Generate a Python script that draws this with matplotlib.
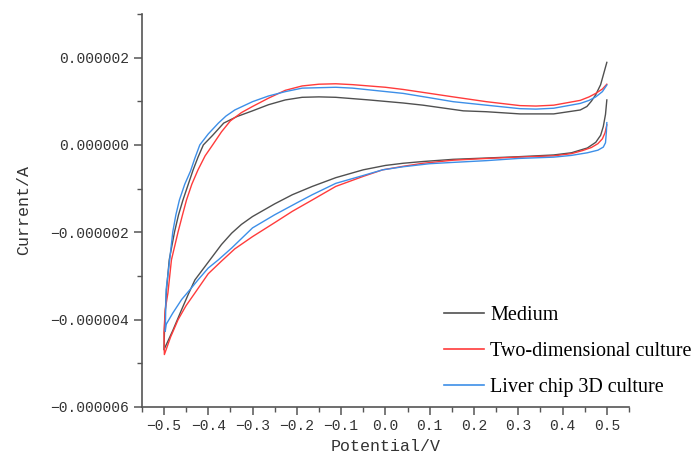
import matplotlib
matplotlib.use("Agg")
import matplotlib.pyplot as plt
from matplotlib.ticker import MultipleLocator, FuncFormatter
import numpy as np

# cyclic voltammetry, one cycle each: cathodic sweep 0.5 -> -0.5 then anodic back to 0.5
# potential in V, current in uA (scaled to A when plotting)
medium_E = [0.500, 0.497, 0.492, 0.486, 0.475, 0.456, 0.420, 0.380, 0.300, 0.228, 0.153, 0.085,
            0.040, 0.000, -0.050, -0.112, -0.165, -0.210, -0.250, -0.300, -0.325, -0.347, -0.370,
            -0.390, -0.410, -0.430, -0.445, -0.460, -0.480, -0.500,
            -0.498, -0.494, -0.488, -0.476, -0.467, -0.457, -0.445, -0.434, -0.423, -0.411, -0.390,
            -0.365, -0.335, -0.300, -0.264, -0.226, -0.188, -0.150, -0.112, -0.037, 0.040, 0.085,
            0.176, 0.228, 0.304, 0.380, 0.440, 0.455, 0.465, 0.475, 0.486, 0.500]
medium_I = [1.03, 0.70, 0.42, 0.22, 0.06, -0.07, -0.18, -0.23, -0.27, -0.30, -0.33, -0.38,
            -0.42, -0.47, -0.57, -0.75, -0.95, -1.14, -1.35, -1.64, -1.82, -2.02, -2.28,
            -2.55, -2.82, -3.09, -3.42, -3.77, -4.25, -4.69,
            -4.00, -3.30, -2.63, -1.99, -1.60, -1.26, -0.90, -0.57, -0.28, 0.00, 0.22,
            0.50, 0.65, 0.78, 0.92, 1.03, 1.09, 1.10, 1.09, 1.03, 0.96, 0.91,
            0.78, 0.76, 0.71, 0.71, 0.80, 0.88, 1.00, 1.15, 1.38, 1.89]

twod_E = [0.500, 0.496, 0.490, 0.480, 0.465, 0.445, 0.420, 0.380, 0.300, 0.228, 0.153, 0.085,
          0.040, -0.006, -0.050, -0.112, -0.165, -0.210, -0.250, -0.300, -0.340, -0.370, -0.400,
          -0.430, -0.450, -0.468, -0.485, -0.499,
          -0.500, -0.497, -0.491, -0.483, -0.468, -0.458, -0.449, -0.437, -0.423, -0.407, -0.390,
          -0.370, -0.350, -0.325, -0.300, -0.264, -0.226, -0.188, -0.150, -0.112, -0.074, 0.000,
          0.040, 0.100, 0.153, 0.228, 0.304, 0.340, 0.380, 0.440, 0.460, 0.475, 0.490, 0.500]
twod_I = [0.46, 0.28, 0.14, 0.03, -0.06, -0.13, -0.20, -0.25, -0.28, -0.31, -0.35, -0.42,
          -0.49, -0.57, -0.72, -0.95, -1.26, -1.52, -1.78, -2.10, -2.38, -2.66, -2.95,
          -3.39, -3.68, -4.00, -4.40, -4.80,
          -4.30, -3.77, -3.39, -2.63, -1.99, -1.60, -1.26, -0.90, -0.57, -0.25, 0.00,
          0.30, 0.55, 0.74, 0.88, 1.07, 1.25, 1.35, 1.39, 1.40, 1.38, 1.32,
          1.27, 1.18, 1.10, 0.99, 0.90, 0.89, 0.91, 1.02, 1.10, 1.18, 1.28, 1.39]

chip_E = [0.500, 0.499, 0.497, 0.492, 0.480, 0.456, 0.420, 0.380, 0.300, 0.228, 0.153, 0.100,
          0.040, -0.006, -0.050, -0.112, -0.165, -0.195, -0.250, -0.300, -0.347, -0.377, -0.400,
          -0.423, -0.440, -0.460, -0.480, -0.495, -0.497,
          -0.495, -0.487, -0.480, -0.473, -0.465, -0.453, -0.440, -0.430, -0.419, -0.400, -0.377,
          -0.360, -0.340, -0.300, -0.264, -0.226, -0.188, -0.112, -0.074, 0.040, 0.100, 0.153,
          0.228, 0.304, 0.340, 0.380, 0.440, 0.460, 0.475, 0.490, 0.500]
chip_I = [0.51, 0.30, 0.05, -0.05, -0.12, -0.18, -0.24, -0.28, -0.31, -0.36, -0.40, -0.43,
          -0.50, -0.57, -0.70, -0.88, -1.14, -1.30, -1.60, -1.90, -2.36, -2.63, -2.82,
          -3.09, -3.30, -3.54, -3.85, -4.11, -4.27,
          -3.31, -2.63, -1.99, -1.60, -1.26, -0.90, -0.60, -0.30, 0.00, 0.25, 0.50,
          0.66, 0.80, 0.99, 1.12, 1.22, 1.30, 1.32, 1.30, 1.18, 1.08, 0.99,
          0.91, 0.83, 0.82, 0.84, 0.95, 1.02, 1.10, 1.22, 1.37]

labels = ["Medium", "Two-dimensional culture", "Liver chip 3D culture"]
colors = ["#505050", "#ff3b3b", "#3d8fe8"]

mono = "Liberation Mono"
axcol = "#555555"

fig = plt.figure(figsize=(6.95, 4.63), dpi=100)
ax = fig.add_axes([0.204, 0.121, 0.701, 0.849])

series = [(medium_E, medium_I), (twod_E, twod_I), (chip_E, chip_I)]
for (E, I), lab, c in zip(series, labels, colors):
    ax.plot(E, np.array(I) * 1e-6, color=c, lw=1.0, label=lab)

ax.set_xlim(-0.55, 0.55)
ax.set_ylim(-6e-6, 3e-6)
ax.xaxis.set_major_locator(MultipleLocator(0.1))
ax.xaxis.set_minor_locator(MultipleLocator(0.05))
ax.yaxis.set_major_locator(MultipleLocator(2e-6))
ax.yaxis.set_minor_locator(MultipleLocator(1e-6))
ax.yaxis.set_major_formatter(FuncFormatter(lambda v, p: f"{v:.6f}".replace("-", "\u2212")))
ax.xaxis.set_major_formatter(FuncFormatter(lambda v, p: f"{v:.1f}".replace("-", "\u2212")))

for s in ["top", "right"]:
    ax.spines[s].set_visible(False)
for s in ["left", "bottom"]:
    ax.spines[s].set_color(axcol)
    ax.spines[s].set_linewidth(1.2)

ax.tick_params(which="major", direction="out", length=6, width=1.1, color=axcol,
               labelsize=10.5, labelcolor="#333333", pad=3)
ax.tick_params(which="minor", direction="out", length=3.5, width=1.0, color=axcol)
for t in ax.get_xticklabels() + ax.get_yticklabels():
    t.set_fontfamily(mono)

ax.set_xlabel("Potential/V", fontfamily=mono, fontsize=12, color="#333333", labelpad=4)
ax.set_ylabel("Current/A", fontfamily=mono, fontsize=12, color="#333333", labelpad=14)

leg = ax.legend(loc="lower left", bbox_to_anchor=(0.639, 0.142), bbox_transform=fig.transFigure,
                frameon=False, prop={"family": "Liberation Serif", "size": 14.5},
                handlelength=2.0, handletextpad=0.3, labelspacing=0.85,
                borderaxespad=0, borderpad=0)
for line in leg.get_lines():
    line.set_linewidth(1.2)

fig.savefig("out.png", dpi=100)
